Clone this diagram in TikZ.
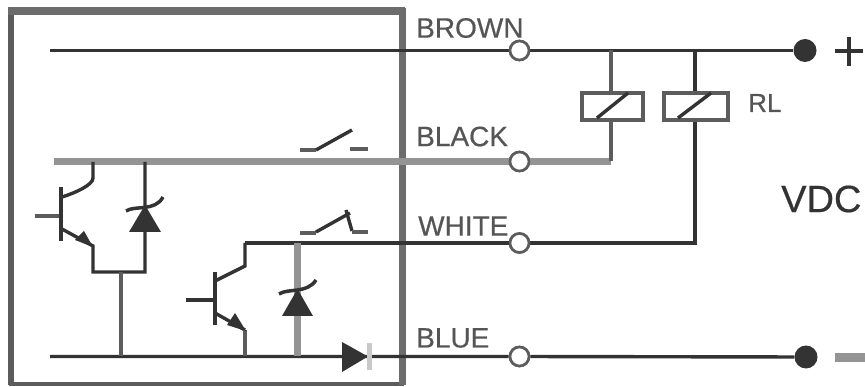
\documentclass[tikz,border=0pt]{standalone}
\usepackage{fontspec}
\setmainfont{Liberation Sans}
\newfontfamily\labfont[FakeBold=0.5]{Liberation Sans}
\definecolor{dk}{HTML}{333333}
\definecolor{md}{HTML}{5C5C5C}
\definecolor{gy}{HTML}{949494}
\definecolor{tx}{HTML}{555555}
\tikzset{
  wire/.style={draw=dk,line width=3.4pt},
  gray wire/.style={draw=gy,line width=7pt},
  mid wire/.style={draw=md,line width=4pt},
  term/.style={circle,draw=md,fill=white,line width=2.6pt,minimum size=19pt,inner sep=0pt},
  bigdot/.style={circle,fill=dk,draw=none,minimum size=23pt,inner sep=0pt},
  coil/.style={rectangle,draw=md,fill=white,line width=4pt,minimum height=27pt,inner sep=0pt},
  lab/.style={inner sep=0pt,text=tx,font=\labfont\fontsize{28}{28}\selectfont}
}
\begin{document}
\begin{tikzpicture}[x=1pt,y=-1pt]
\useasboundingbox (0,0) rectangle (865,387);
% terminals and coordinates
\coordinate (bs) at (50,50.5);
\coordinate (ks) at (54,161.5);
\coordinate (ws) at (245,243);
\coordinate (us) at (50,356.5);
\node[term] (tb) at (519.5,50.5) {};
\node[term] (tk) at (519.5,161.5) {};
\node[term] (tw) at (519.5,243) {};
\node[term] (tu) at (519.5,356.5) {};
\node[bigdot] (dp) at (805,50.5) {};
\node[bigdot] (dm) at (806,357) {};
\coordinate (c1t) at (611,50.5);
\coordinate (c2t) at (695,50.5);
\coordinate (c1b) at (611,161.5);
\coordinate (c2b) at (695,243);
\node[coil,minimum width=61pt] (c1) at (612.5,107) {};
\node[coil,minimum width=64pt] (c2) at (696,107) {};
% frame
\draw[draw=md,line width=5.5pt] (11,8) -- (11,385);
\draw[draw=dk!80,line width=4pt] (8.5,383.5) -- (404,383.5);
\draw[draw=md!90,line width=7pt] (402,8) -- (402,385);
\draw[draw=md!90,line width=8pt] (7.5,11) -- (405,11);
% main wires
\draw[wire] (bs) -- (tb) -- (dp);
\draw[gray wire] (ks) -- (tk) -- (c1b);
\draw[wire] (ws) -- (tw);
\draw[wire] (tw) -- (c2b) -- (c2.south -| c2b);
\draw[wire] (us) -- (tu) -- (dm);
\draw[mid wire] (c1b) -- (c1.south -| c1b);
\draw[mid wire] (c1t) -- (c1.north -| c1t);
\draw[wire] (c2t) -- (c2.north -| c2t);
\node[term] at (tb) {};
\node[term] at (tk) {};
\node[term] at (tw) {};
\node[term] at (tu) {};
\node[coil,minimum width=61pt] at (c1) {};
\node[coil,minimum width=64pt] at (c2) {};
\draw[wire] (597,118) -- (628,93);
\draw[wire] (678,118) -- (711,93);
% transistor 1
\coordinate (t1base) at (61,216);
\coordinate (t1col) at (93,162);
\coordinate (t1em) at (93,272);
\coordinate (z1) at (145,272);
\coordinate (z1t) at (145,162);
\coordinate (g1) at (121,272);
\coordinate (g1b) at (121,356.5);
\draw[mid wire] (35,216) -- (t1base);
\draw[wire,line width=4pt] (61,187) -- (61,241);
\draw[wire] (62,197) .. controls (75,193) and (93,185) .. (93,178) -- (t1col);
\draw[wire] (62,229) -- (93,246) -- (t1em) -- (z1) -- (z1t);
\fill[dk] (93,247) -- (75,240) -- (84,231) -- cycle;
\draw[mid wire] (g1) -- (g1b);
\fill[dk] (145,205) -- (161,232) -- (129,232) -- cycle;
\draw[wire,line width=3.5pt] (126,211) .. controls (135,205) and (155,212) .. (163,197);
% transistor 2
\coordinate (t2base) at (215,300);
\coordinate (t2em) at (245,356.5);
\coordinate (z2t) at (297.5,243);
\coordinate (z2b) at (297.5,356.5);
\draw[gray wire] (z2t) -- (z2b);
\draw[wire] (ws) -- (245,266) -- (215,281);
\draw[wire] (186,300) -- (t2base);
\draw[wire,line width=4pt] (215,272) -- (215,325);
\draw[wire] (215,313) -- (245,330);
\draw[mid wire] (245,330) -- (t2em);
\fill[dk] (246,331) -- (227,325) -- (235,313) -- cycle;
\fill[dk] (297.5,289) -- (313,316) -- (282,316) -- cycle;
\draw[wire,line width=3.5pt] (279,294) .. controls (288,288) and (307,294) .. (316,280);
% diode on blue
\fill[dk] (342,342) -- (368,356.5) -- (342,372) -- cycle;
\draw[draw=gy!50,line width=5pt] (369,343) -- (369,370);
% switches
\draw[mid wire] (300,150) -- (316,150);
\draw[wire] (316,150) -- (352,130);
\draw[mid wire] (350,149.5) -- (368,149.5);
\draw[mid wire] (300,233) -- (316,233);
\draw[wire] (316,232) -- (350,213);
\draw[wire] (346,210) -- (352,231);
\draw[mid wire] (352,232) -- (368,232);
% labels
\node[lab,anchor=west] (lb) at (416,28) {BROWN};
\node[lab,anchor=west] (lk) at (416,136.5) {BLACK};
\node[lab,anchor=west] (lw) at (418,226) {WHITE};
\node[lab,anchor=west] (lu) at (416,338) {BLUE};
\node[lab,anchor=west] (lr) at (748,103) {\fontsize{26}{26}\selectfont RL};
\node[lab,anchor=west,text=dk] (lv) at (781,199) {\fontsize{38}{38}\selectfont VDC};
\draw[draw=dk,line width=4.5pt] (835,51) -- (863,51);
\draw[draw=dk,line width=4.5pt] (849,37) -- (849,66);
\draw[draw=gy,line width=9pt] (835,358) -- (865,358);
\end{tikzpicture}
\end{document}
